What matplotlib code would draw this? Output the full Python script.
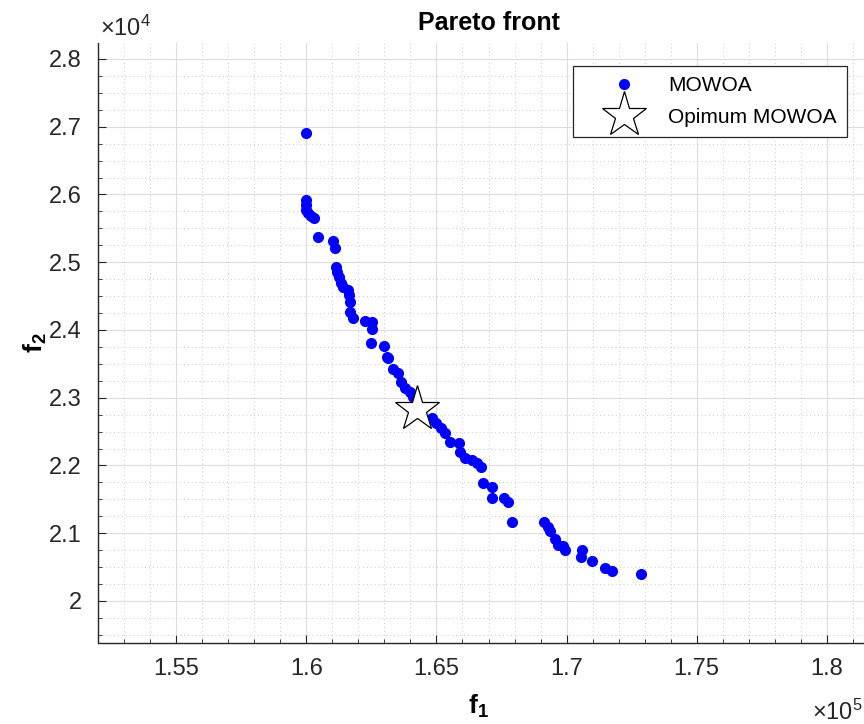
import numpy as np
import matplotlib.pyplot as plt
from matplotlib.ticker import MultipleLocator, FuncFormatter

plt.rcParams['font.family'] = ['Liberation Sans', 'DejaVu Sans']
plt.rcParams['mathtext.fontset'] = 'custom'
plt.rcParams['mathtext.rm'] = 'Liberation Sans'
plt.rcParams['mathtext.bf'] = 'Liberation Sans:bold'

# Pareto front points (f1 in 1e5, f2 in 1e4)
f1_e5 = [1.6000, 1.6000, 1.6000, 1.5998, 1.6006, 1.6019, 1.6029, 1.6045, 1.6102, 1.6111,
         1.6115, 1.6119, 1.6125, 1.6132, 1.6141, 1.6160, 1.6164, 1.6169, 1.6167, 1.6179,
         1.6224, 1.6254, 1.6254, 1.6250, 1.6297, 1.6310, 1.6314, 1.6331, 1.6352, 1.6365,
         1.6378, 1.6397, 1.6410, 1.6432, 1.6481, 1.6500, 1.6519, 1.6532, 1.6551, 1.6587,
         1.6592, 1.6609, 1.6635, 1.6654, 1.6673, 1.6679, 1.6712, 1.6712, 1.6759, 1.6775,
         1.6792, 1.6913, 1.6929, 1.6935, 1.6955, 1.6967, 1.6987, 1.6994, 1.7058, 1.7054,
         1.7096, 1.7147, 1.7173, 1.7286]
f2_e4 = [2.6912, 2.5919, 2.5845, 2.5771, 2.5722, 2.5683, 2.5658, 2.5368, 2.5314, 2.5206,
         2.4934, 2.4861, 2.4787, 2.4689, 2.4639, 2.4590, 2.4517, 2.4418, 2.4270, 2.4173,
         2.4138, 2.4122, 2.4010, 2.3804, 2.3764, 2.3606, 2.3582, 2.3420, 2.3361, 2.3237,
         2.3140, 2.3089, 2.3016, 2.2844, 2.2697, 2.2622, 2.2549, 2.2475, 2.2351, 2.2328,
         2.2204, 2.2106, 2.2081, 2.2041, 2.1982, 2.1737, 2.1687, 2.1516, 2.1516, 2.1466,
         2.1170, 2.1170, 2.1097, 2.1034, 2.0919, 2.0827, 2.0812, 2.0753, 2.0753, 2.0645,
         2.0595, 2.0483, 2.0447, 2.0399]
opt_f1 = 1.6427e5
opt_f2 = 2.2829e4

f1 = np.array(f1_e5) * 1e5
f2 = np.array(f2_e4) * 1e4

W, H = 864, 724
fig = plt.figure(figsize=(W / 100, H / 100), dpi=100)
ax = fig.add_axes([98.3 / W, 1 - 642.5 / H, 780.4 / W, 599.8 / H])

ax.plot(f1, f2, 'o', color=(0, 0, 1), ms=7, ls='none', label='MOWOA')
ax.plot(opt_f1, opt_f2, '*', ms=34, mfc='white', mec='black', mew=0.9, ls='none',
        label='Opimum MOWOA')

ax.set_xlim(1.52e5, 1.82e5)
ax.set_ylim(1.9387e4, 2.824e4)
ax.xaxis.set_major_locator(MultipleLocator(5000))
ax.xaxis.set_minor_locator(MultipleLocator(1000))
ax.yaxis.set_major_locator(MultipleLocator(1000))
ax.yaxis.set_minor_locator(MultipleLocator(250))
ax.xaxis.set_major_formatter(FuncFormatter(lambda v, p: f'{v / 1e5:g}'))
ax.yaxis.set_major_formatter(FuncFormatter(lambda v, p: f'{v / 1e4:g}'))

ax.grid(which='major', color='#dcdcdc', lw=0.8)
ax.grid(which='minor', color='#c8c8c8', ls=(0, (1, 3)), lw=0.7)
ax.set_axisbelow(True)

for s in ['top', 'right']:
    ax.spines[s].set_visible(False)
for s in ['left', 'bottom']:
    ax.spines[s].set_color('#262626')
    ax.spines[s].set_linewidth(1.0)

ax.tick_params(which='major', direction='in', length=6, width=0.8, colors='#262626',
               labelsize=17)
ax.tick_params(which='minor', direction='in', length=3, width=0.6, colors='#262626')
ax.tick_params(axis='x', which='major', pad=11)
ax.tick_params(axis='y', which='major', pad=12)

ax.set_title('Pareto front', fontsize=18, fontweight='bold', pad=9)
ax.set_xlabel(r'$\mathbf{f}_\mathbf{1}$', fontsize=19)
ax.xaxis.set_label_coords(0.487, -0.084)
ax.set_ylabel(r'$\mathbf{f}_\mathbf{2}$', fontsize=19, labelpad=0)

fig.text(100 / W, 1 - 28 / H, r'$\times\mathregular{10^{4}}$', fontsize=17,
         color='#262626', va='center', ha='left')
fig.text(812 / W, 1 - 712 / H, r'$\times\mathregular{10^{5}}$', fontsize=17,
         color='#262626', va='center', ha='left')

leg = ax.legend(loc='upper left', bbox_to_anchor=(573 / W, 1 - 65.7 / H),
                bbox_transform=fig.transFigure, borderaxespad=0, fontsize=15,
                fancybox=False, framealpha=1, edgecolor='#262626',
                handlelength=3.9, handletextpad=0.15, borderpad=0.5, labelspacing=0.6)
leg.get_frame().set_linewidth(0.9)

fig.savefig('out.png', dpi=100)
